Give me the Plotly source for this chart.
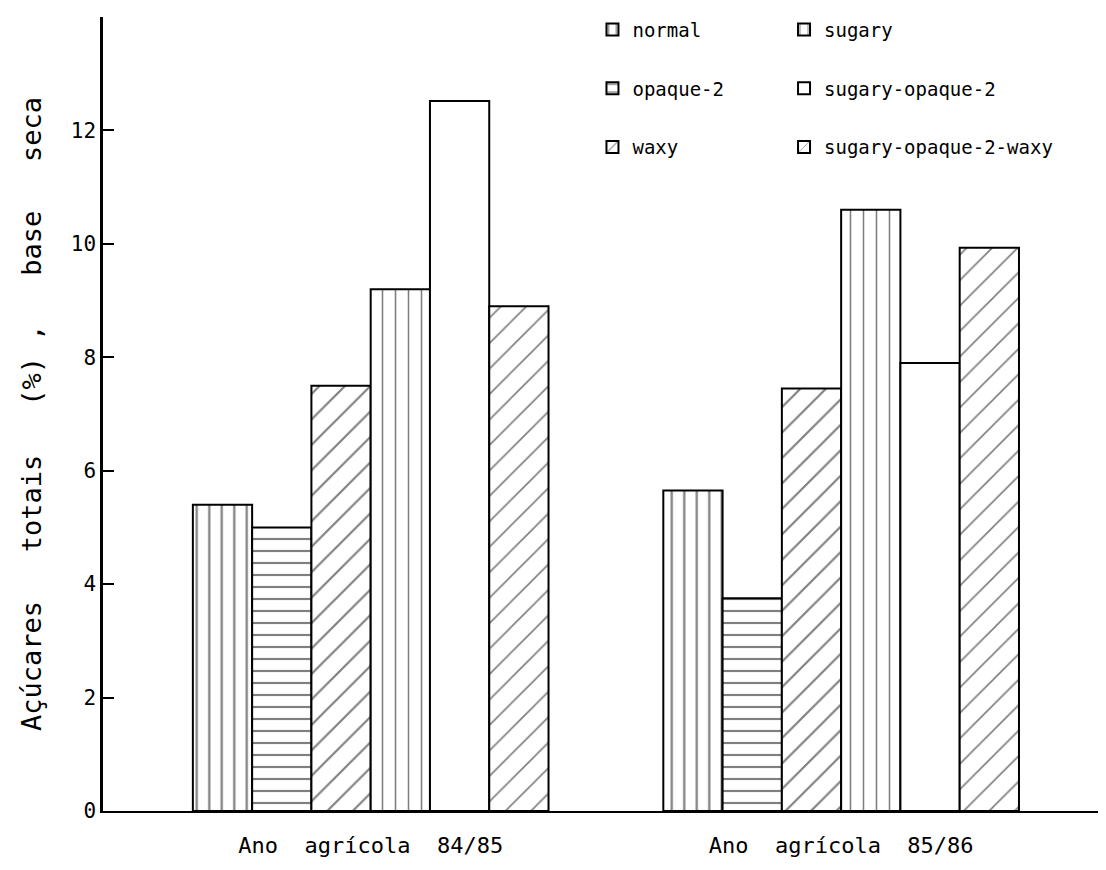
import plotly.graph_objects as go

categories = ["Ano  agrícola  84/85", "Ano  agrícola  85/86"]
normal = [5.40, 5.65]
opaque2 = [5.00, 3.75]
waxy = [7.50, 7.45]
sugary = [9.20, 10.60]
sugary_opaque2 = [12.52, 7.90]
sugary_opaque2_waxy = [8.90, 9.93]

y_tickvals = [0, 2, 4, 6, 8, 10, 12, 14]
y_ticktext = ["0", "2", "4", "6", "8", "10", "12", ""]

series = [
    ("normal", normal, dict(shape="|", size=12.5, solidity=0.18), "legend"),
    ("opaque-2", opaque2, dict(shape="-", size=12, solidity=0.18), "legend"),
    ("waxy", waxy, dict(shape="/", size=18, solidity=0.12), "legend"),
    ("sugary", sugary, dict(shape="|", size=13, solidity=0.12), "legend2"),
    ("sugary-opaque-2", sugary_opaque2, None, "legend2"),
    ("sugary-opaque-2-waxy", sugary_opaque2_waxy, dict(shape="/", size=18, solidity=0.09), "legend2"),
]

FONT = "DejaVu Sans Mono"
fig = go.Figure()
for name, vals, pat, leg in series:
    marker = dict(color="white", line=dict(color="black", width=2))
    if pat:
        marker["pattern"] = dict(fgcolor="black", bgcolor="white", fillmode="overlay", **pat)
    fig.add_trace(go.Bar(
        name=name, x=categories, y=vals, marker=marker,
        legend=leg, legendgroup=name,
    ))

# page body has an 8px margin: figure is drawn at (8,8)
fig.update_layout(
    width=1098, height=862,
    margin=dict(l=95, r=0, t=9, b=59),
    paper_bgcolor="white", plot_bgcolor="white",
    barmode="group", bargap=0.244, bargroupgap=0,
    font=dict(family=FONT, color="black"),
    legend=dict(x=0.488, y=1.008, xanchor="left", yanchor="top",
                font=dict(size=19, family=FONT), tracegroupgap=31,
                bgcolor="rgba(0,0,0,0)", itemclick=False),
    legend2=dict(x=0.679, y=1.008, xanchor="left", yanchor="top",
                 font=dict(size=19, family=FONT), tracegroupgap=31,
                 bgcolor="rgba(0,0,0,0)", itemclick=False),
)
fig.update_xaxes(
    range=[-0.569, 1.563], showline=True, linecolor="black", linewidth=2,
    showgrid=False, zeroline=False, ticks="", ticklabelstandoff=14,
    tickfont=dict(size=22, family=FONT),
)
fig.update_yaxes(
    range=[0, 14], showline=True, linecolor="black", linewidth=2.5,
    showgrid=False, zeroline=False, ticks="inside", ticklen=11, tickwidth=1.5,
    tickcolor="black", tickvals=y_tickvals, ticktext=y_ticktext,
    tickfont=dict(size=21, family=FONT),
    title=dict(text="Açúcares   totais   (%) ,   base   seca",
               font=dict(size=27, family=FONT), standoff=22),
)

fig.write_html("out.html")
